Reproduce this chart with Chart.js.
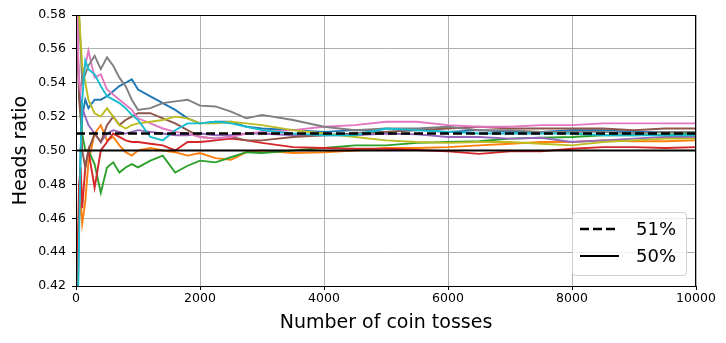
<!DOCTYPE html>
<html>
<head>
<meta charset="utf-8">
<script src="https://cdn.jsdelivr.net/npm/chart.js@4/dist/chart.umd.min.js"></script>
<style>
  html, body { margin: 0; padding: 0; background: #fff; }
  #wrap { width: 726px; height: 343px; position: relative; }
</style>
</head>
<body>
<div id="wrap"><canvas id="coinChart" width="726" height="343"></canvas></div>
<script>
const tosses = [1, 10, 25, 50, 75, 100, 150, 200, 300, 400, 500, 600, 700, 800, 900, 1000,
  1200, 1400, 1600, 1800, 2000, 2250, 2500, 2750, 3000, 3500, 4000, 4500, 5000, 5500,
  6000, 6500, 7000, 7500, 8000, 8500, 9000, 9500, 10000];

// heads ratio, one array per series (10 runs)
const blue   = [0, 0.30, 0.40, 0.46, 0.50, 0.52, 0.53, 0.525, 0.53, 0.53, 0.532, 0.535, 0.538, 0.540, 0.542, 0.536, 0.532, 0.528, 0.524, 0.519, 0.516, 0.517, 0.517, 0.514, 0.513, 0.512, 0.511, 0.512, 0.511, 0.512, 0.511, 0.512, 0.511, 0.511, 0.512, 0.512, 0.511, 0.511, 0.511];
const orange = [0, 0.40, 0.44, 0.46, 0.47, 0.457, 0.47, 0.493, 0.51, 0.515, 0.506, 0.508, 0.503, 0.499, 0.497, 0.500, 0.5015, 0.500, 0.499, 0.497, 0.4985, 0.4955, 0.4945, 0.499, 0.500, 0.4985, 0.499, 0.500, 0.5015, 0.5015, 0.502, 0.503, 0.504, 0.505, 0.505, 0.506, 0.5055, 0.5055, 0.506];
const green  = [1, 0.60, 0.56, 0.54, 0.52, 0.51, 0.50, 0.50, 0.492, 0.475, 0.49, 0.493, 0.487, 0.49, 0.492, 0.490, 0.494, 0.497, 0.487, 0.491, 0.494, 0.493, 0.496, 0.499, 0.4985, 0.500, 0.5015, 0.503, 0.503, 0.5045, 0.505, 0.5055, 0.507, 0.5075, 0.508, 0.509, 0.509, 0.5095, 0.510];
const red    = [0, 0.30, 0.44, 0.48, 0.49, 0.466, 0.49, 0.50, 0.478, 0.50, 0.505, 0.51, 0.508, 0.506, 0.505, 0.505, 0.504, 0.503, 0.500, 0.505, 0.505, 0.506, 0.507, 0.506, 0.5045, 0.502, 0.5015, 0.501, 0.501, 0.5003, 0.4995, 0.498, 0.4995, 0.4995, 0.501, 0.502, 0.502, 0.5015, 0.502];
const purple = [1, 0.60, 0.56, 0.54, 0.53, 0.525, 0.52, 0.515, 0.51, 0.505, 0.51, 0.512, 0.511, 0.510, 0.511, 0.512, 0.511, 0.510, 0.509, 0.509, 0.510, 0.509, 0.509, 0.510, 0.510, 0.509, 0.509, 0.509, 0.510, 0.5095, 0.508, 0.508, 0.507, 0.5075, 0.505, 0.506, 0.507, 0.508, 0.508];
const brown  = [1, 0.70, 0.56, 0.53, 0.52, 0.50, 0.49, 0.50, 0.51, 0.505, 0.515, 0.52, 0.515, 0.518, 0.52, 0.522, 0.522, 0.519, 0.516, 0.512, 0.508, 0.507, 0.508, 0.506, 0.506, 0.508, 0.509, 0.510, 0.511, 0.512, 0.513, 0.514, 0.513, 0.513, 0.513, 0.513, 0.512, 0.513, 0.513];
const pink   = [1, 0.60, 0.57, 0.54, 0.535, 0.545, 0.55, 0.559, 0.543, 0.545, 0.536, 0.533, 0.530, 0.527, 0.524, 0.519, 0.516, 0.513, 0.511, 0.510, 0.508, 0.507, 0.508, 0.510, 0.511, 0.512, 0.514, 0.515, 0.517, 0.517, 0.515, 0.514, 0.514, 0.515, 0.515, 0.516, 0.516, 0.516, 0.516];
const gray   = [1, 0.70, 0.60, 0.58, 0.56, 0.54, 0.545, 0.55, 0.556, 0.548, 0.555, 0.55, 0.543, 0.538, 0.530, 0.524, 0.525, 0.528, 0.529, 0.530, 0.5265, 0.526, 0.523, 0.519, 0.521, 0.518, 0.514, 0.512, 0.513, 0.513, 0.514, 0.512, 0.512, 0.511, 0.511, 0.511, 0.510, 0.511, 0.511];
const olive  = [1, 0.80, 0.65, 0.58, 0.565, 0.55, 0.54, 0.53, 0.522, 0.52, 0.525, 0.52, 0.515, 0.513, 0.515, 0.516, 0.517, 0.518, 0.520, 0.519, 0.516, 0.516, 0.517, 0.516, 0.515, 0.512, 0.510, 0.508, 0.506, 0.505, 0.5045, 0.505, 0.505, 0.504, 0.503, 0.505, 0.506, 0.507, 0.507];
const cyan   = [0, 0.20, 0.40, 0.45, 0.50, 0.53, 0.553, 0.548, 0.545, 0.538, 0.532, 0.530, 0.528, 0.525, 0.521, 0.518, 0.508, 0.506, 0.512, 0.516, 0.516, 0.517, 0.516, 0.514, 0.512, 0.510, 0.509, 0.509, 0.513, 0.512, 0.511, 0.510, 0.510, 0.510, 0.510, 0.509, 0.509, 0.509, 0.509];

const runs = [blue, orange, green, red, purple, brown, pink, gray, olive, cyan];
const runColors = ["#1f77b4", "#ff7f0e", "#2ca02c", "#d62728", "#9467bd",
  "#8c564b", "#e377c2", "#7f7f7f", "#bcbd22", "#17becf"];

const refLabels = ["51%", "50%"];
const refValues = [0.51, 0.50];
const xTicks = [0, 2000, 4000, 6000, 8000, 10000];
const yTicks = [0.42, 0.44, 0.46, 0.48, 0.50, 0.52, 0.54, 0.56, 0.58];

const FONT = "'DejaVu Sans', sans-serif";
const DASH = [9, 4];

function toPoints(arr) {
  return arr.map((v, i) => ({ x: tosses[i], y: v }));
}

// matplotlib draws run 0 first, so it sits at the bottom
const datasets = runs.map((arr, i) => ({
  label: "run " + i,
  data: toPoints(arr),
  borderColor: runColors[i],
  borderWidth: 1.9,
  pointRadius: 0,
  tension: 0,
  fill: false,
  order: 100 - i
}));

datasets.push({
  label: refLabels[0],
  data: [{ x: 0, y: refValues[0] }, { x: 10000, y: refValues[0] }],
  borderColor: "#000",
  borderWidth: 2.6,
  borderDash: DASH,
  pointRadius: 0,
  order: 2
});
datasets.push({
  label: refLabels[1],
  data: [{ x: 0, y: refValues[1] }, { x: 10000, y: refValues[1] }],
  borderColor: "#000",
  borderWidth: 1.9,
  pointRadius: 0,
  order: 1
});

// top/right spines + the legend box in the lower right of the plot
const frameAndLegend = {
  id: "frameAndLegend",
  afterDraw(chart) {
    const { ctx, chartArea: a } = chart;
    ctx.save();
    ctx.strokeStyle = "#000";
    ctx.lineWidth = 1;
    ctx.strokeRect(a.left + 0.5, a.top + 0.5, a.right - a.left - 1, a.bottom - a.top);

    const bx = 572, by = 212, bw = 114, bh = 63;
    ctx.fillStyle = "rgba(255,255,255,0.8)";
    ctx.strokeStyle = "#d0d0d0";
    ctx.beginPath();
    ctx.roundRect(bx + 0.5, by + 0.5, bw, bh, 3);
    ctx.fill();
    ctx.stroke();

    const rows = [by + 17, by + 44];
    ctx.strokeStyle = "#000";
    ctx.lineWidth = 2.6;
    ctx.setLineDash(DASH);
    ctx.beginPath();
    ctx.moveTo(bx + 8, rows[0]); ctx.lineTo(bx + 47, rows[0]);
    ctx.stroke();
    ctx.setLineDash([]);
    ctx.lineWidth = 1.9;
    ctx.beginPath();
    ctx.moveTo(bx + 8, rows[1]); ctx.lineTo(bx + 47, rows[1]);
    ctx.stroke();

    ctx.fillStyle = "#000";
    ctx.font = "18px " + FONT;
    ctx.textBaseline = "middle";
    ctx.fillText(refLabels[0], bx + 64, rows[0] + 1);
    ctx.fillText(refLabels[1], bx + 64, rows[1] + 1);
    ctx.restore();
  }
};

new Chart(document.getElementById("coinChart"), {
  type: "line",
  data: { datasets: datasets },
  options: {
    responsive: false,
    animation: false,
    layout: { padding: { left: 8, right: 30, top: 15, bottom: 9 } },
    plugins: { legend: { display: false }, tooltip: { enabled: false } },
    scales: {
      x: {
        type: "linear",
        min: 0,
        max: 10000,
        afterBuildTicks: s => { s.ticks = xTicks.map(v => ({ value: v })); },
        afterFit: s => { s.height = 48; },
        ticks: { color: "#000", font: { family: FONT, size: 12.5 }, padding: 1, maxRotation: 0, callback: v => String(v) },
        grid: { color: "#b0b0b0", lineWidth: 1, tickColor: "#000", tickLength: 4 },
        border: { color: "#000" },
        title: { display: true, text: "Number of coin tosses", color: "#000", font: { family: FONT, size: 19 }, padding: { top: 0, bottom: 0 } }
      },
      y: {
        min: 0.42,
        max: 0.58,
        afterBuildTicks: s => { s.ticks = yTicks.map(v => ({ value: v })); },
        afterFit: s => { s.width = 68; },
        ticks: { color: "#000", font: { family: FONT, size: 12.5 }, padding: 6, callback: v => v.toFixed(2) },
        grid: { color: "#b0b0b0", lineWidth: 1, tickColor: "#000", tickLength: 4 },
        border: { color: "#000" },
        title: { display: true, text: "Heads ratio", color: "#000", font: { family: FONT, size: 19 }, padding: { top: 2, bottom: 0 } }
      }
    }
  },
  plugins: [frameAndLegend]
});
</script>
</body>
</html>
